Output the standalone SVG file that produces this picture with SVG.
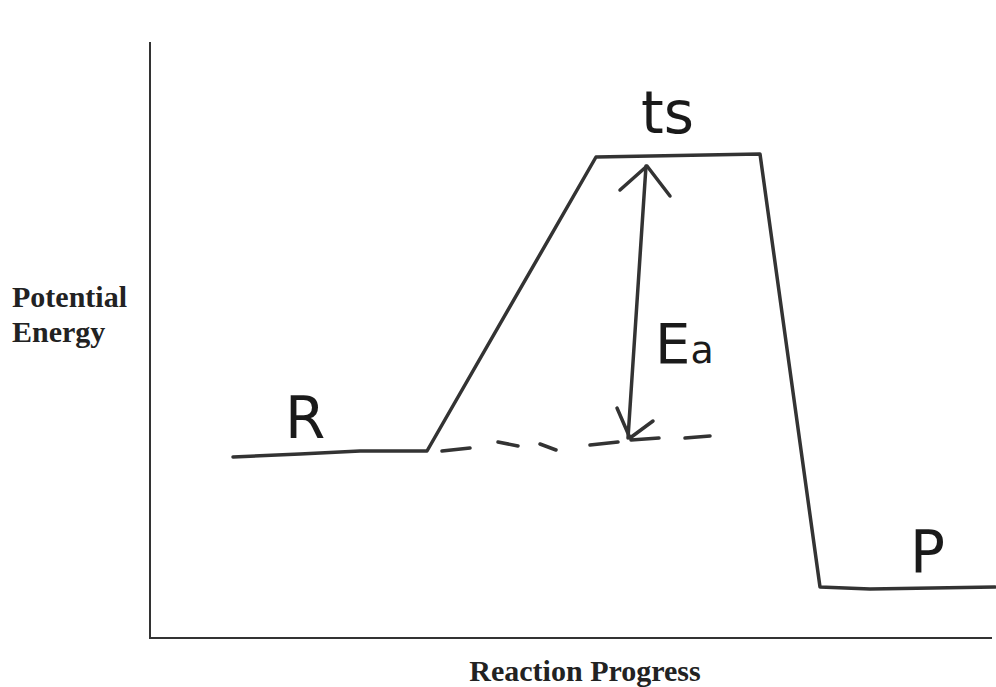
<svg xmlns="http://www.w3.org/2000/svg" width="996" height="687" viewBox="0 0 996 687">
<style>
.ax{stroke:#333;stroke-width:2;fill:none}
.ln{stroke:#333;stroke-width:3.5;fill:none;stroke-linejoin:round;stroke-linecap:round}
.lbl{font-family:"Liberation Serif",serif;font-weight:bold;font-size:30px;fill:#222}
.hw{font-family:"DejaVu Sans",sans-serif;fill:#1a1a1a;font-weight:normal}
</style>
<rect width="996" height="687" fill="#fff"/>
<g id="axes">
<path class="ax" d="M150 42 V638 H992"/>
</g>
<g id="curve">
<path class="ln" d="M233 457 L300 454 L360 451 L427 451 L596 157 L760 154 L820 587 L870 589 L995 587"/>
</g>
<g id="connectors">
<path class="ln" d="M442 451 L470 448 M498 442 L518 446 M540 444 L556 450 M590 445 L618 442 M685 438 L710 436"/>
<path class="ln" d="M646 166 L628 438"/>
<path class="ln" d="M620 190 L647 166 L670 196"/>
<path class="ln" d="M617 408 L630 438 L653 421 M631 440 L659 438"/>
</g>
<g id="labels">
<text class="lbl" x="12" y="307">Potential</text>
<text class="lbl" x="12" y="342">Energy</text>
<text class="lbl" x="585" y="681" text-anchor="middle">Reaction Progress</text>
<text class="hw" x="641" y="133" font-size="58">ts</text>
<text class="hw" x="655" y="363" font-size="56">E<tspan font-size="38">a</tspan></text>
<text class="hw" x="285" y="438" font-size="58">R</text>
<text class="hw" x="910" y="572" font-size="58">P</text>
</g>
</svg>
